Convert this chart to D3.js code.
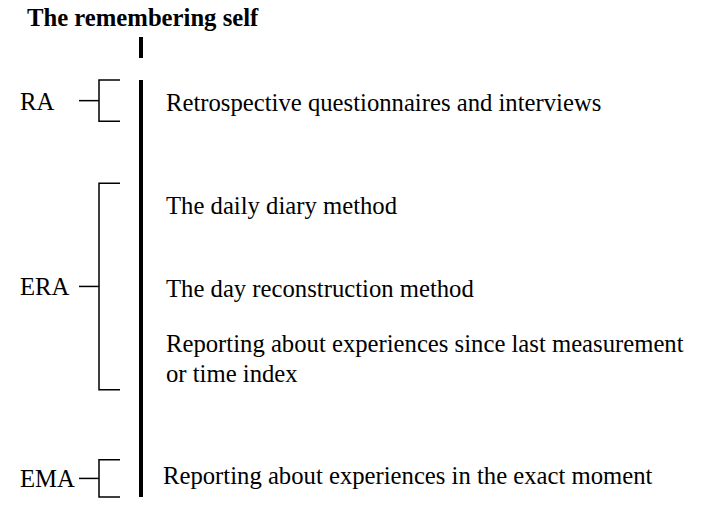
<!DOCTYPE html>
<html><head><meta charset="utf-8">
<script src="https://cdn.jsdelivr.net/npm/d3@7"></script>
<style>body{margin:0;background:#fff}</style>
</head><body>
<svg id="chart" width="707" height="511"></svg>
<script>
// groups: label, span start/end (in row units)
var groupLabels = ["RA", "ERA", "EMA"];
var groupStart = [0.0, 2.5, 9.2];
var groupEnd = [1.0, 7.5, 10.1];
// method lines and their row positions
var methods = ["Retrospective questionnaires and interviews",
  "The daily diary method",
  "The day reconstruction method",
  "Reporting about experiences since last measurement",
  "or time index",
  "Reporting about experiences in the exact moment"];
var methodRow = [0.55, 3.05, 5.05, 6.4, 7.12, 9.6];

var svg = d3.select("#chart");
var y = d3.scaleLinear().domain([0, 10.1]).range([80, 497]);
var font = "'Liberation Serif','Times New Roman',serif";

svg.append("text").attr("x", 27).attr("y", 26).attr("font-family", font)
  .attr("font-weight", "bold").attr("font-size", 24.7).text("The remembering self");
svg.append("line").attr("x1", 141).attr("x2", 141).attr("y1", 37).attr("y2", 58)
  .attr("stroke", "#000").attr("stroke-width", 4);
svg.append("line").attr("x1", 141).attr("x2", 141).attr("y1", y(0)).attr("y2", y(10.1))
  .attr("stroke", "#000").attr("stroke-width", 4);

var g = svg.selectAll("g.grp").data(groupLabels).enter().append("g");
g.append("path").attr("fill", "none").attr("stroke", "#000").attr("stroke-width", 1.5)
  .attr("d", function(d, i) {
    var t = y(groupStart[i]), b = y(groupEnd[i]);
    return "M120," + t + "H99V" + b + "H120";
  });
g.append("line").attr("stroke", "#000").attr("stroke-width", 1.5)
  .attr("x1", 79).attr("x2", 99)
  .attr("y1", function(d, i) { return y((groupStart[i] + groupEnd[i]) / 2); })
  .attr("y2", function(d, i) { return y((groupStart[i] + groupEnd[i]) / 2); });
g.append("text").attr("x", 20).attr("font-family", font).attr("font-size", 24.7)
  .attr("y", function(d, i) { return y((groupStart[i] + groupEnd[i]) / 2) + 9; })
  .text(function(d) { return d; });

svg.selectAll("text.m").data(methods).enter().append("text").attr("class", "m")
  .attr("x", function(d, i) { return i === 5 ? 163 : 166; })
  .attr("y", function(d, i) { return y(methodRow[i]) + 8; })
  .attr("font-family", font).attr("font-size", 24.7).text(function(d) { return d; });
</script>
</body></html>
